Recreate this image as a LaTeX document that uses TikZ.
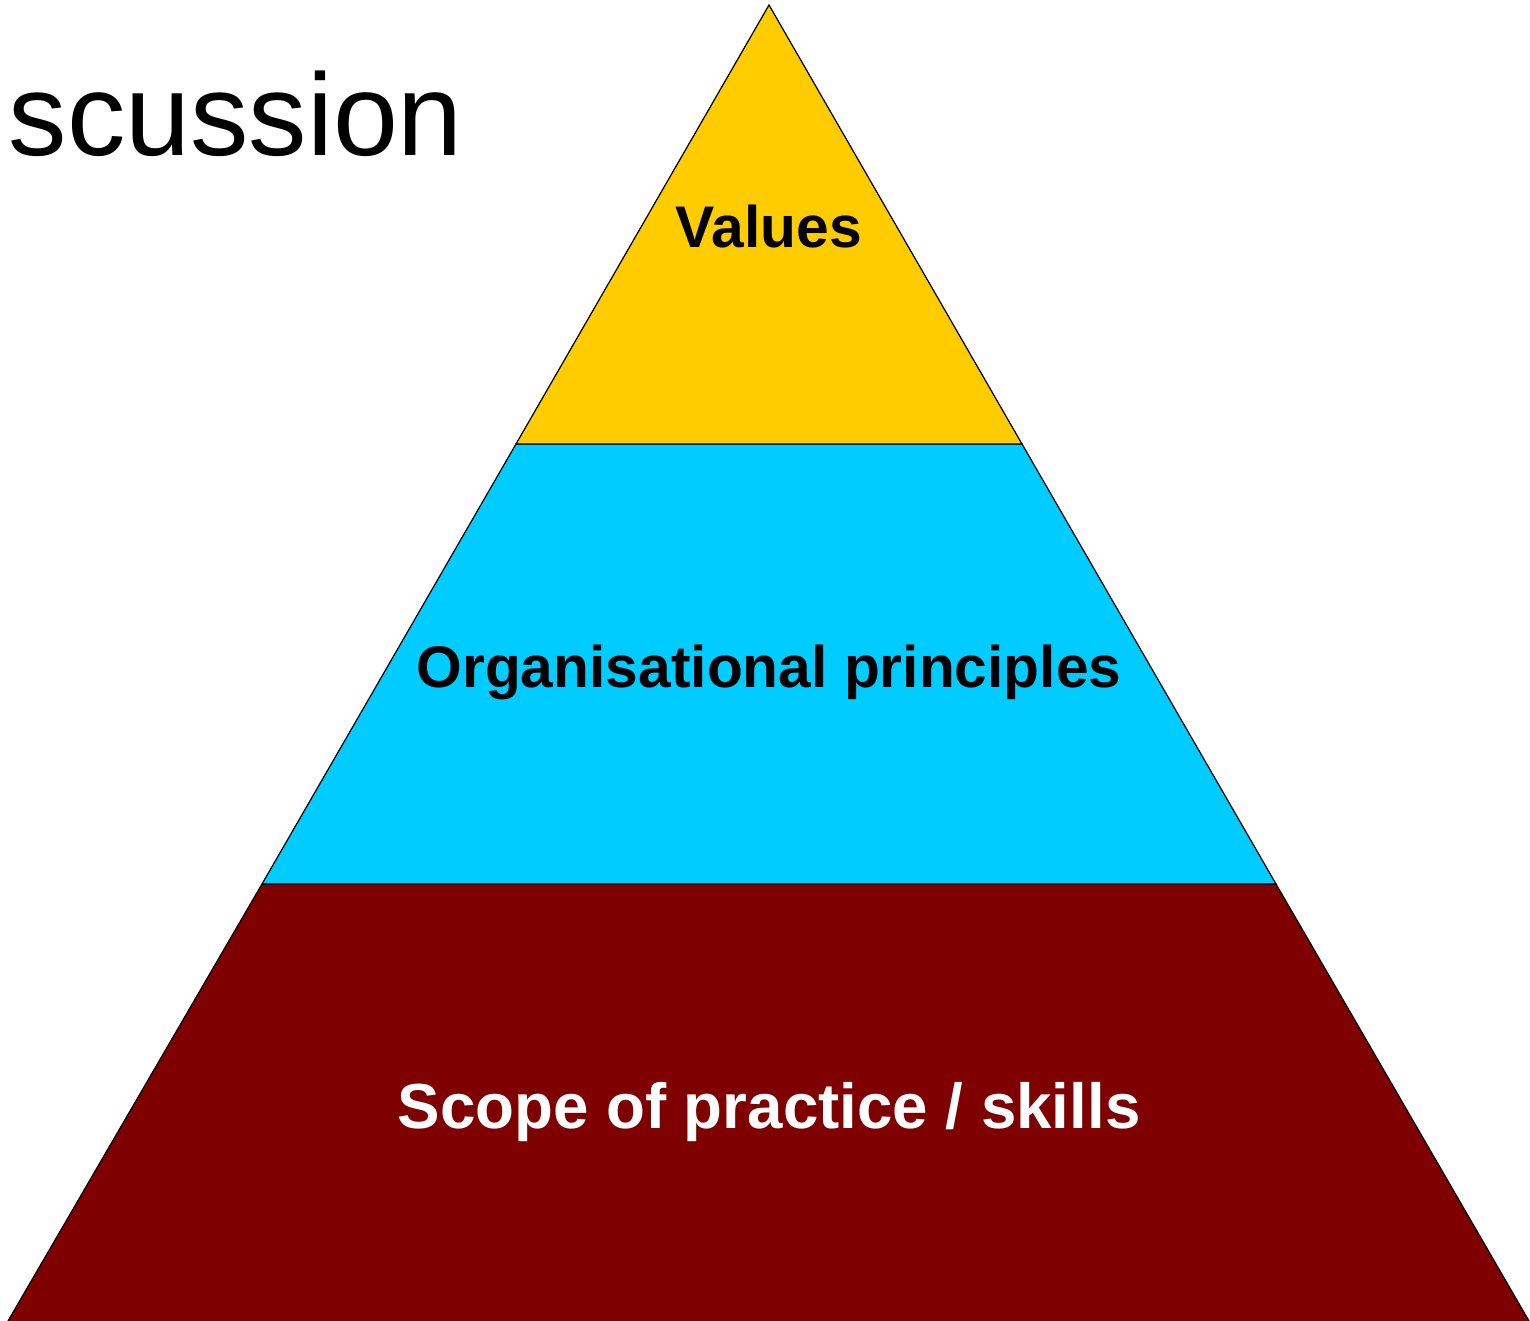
\documentclass[tikz,border=0pt]{standalone}
\usepackage{fontspec}
\setmainfont{Liberation Sans}
\usepackage{tikz}

\definecolor{valuesyellow}{HTML}{FFCC00}
\definecolor{principlescyan}{HTML}{00CCFF}
\definecolor{skillsred}{HTML}{7F0000}

\tikzset{
	layer/.style={draw=black,line width=0.35pt,line join=miter},
	layerlabel/.style={anchor=base,inner sep=0pt,font=\fontsize{16.7}{20}\selectfont\bfseries},
}

\begin{document}
\begin{tikzpicture}[x=0.01cm,y=-0.01cm]
		\useasboundingbox (0,0) rectangle (1530,1321);
		% corners of the pyramid and its layers
		\coordinate (apex) at (769,5);
		\coordinate (topL) at (516,444);
		\coordinate (topR) at (1022,444);
		\coordinate (midL) at (262,884);
		\coordinate (midR) at (1276,884);
		\coordinate (baseL) at (8,1321);
		\coordinate (baseR) at (1529,1321);
		% layers, bottom first
		\fill[skillsred] (midL) -- (midR) -- (baseR) -- (baseL) -- cycle;
		\draw[layer] (baseL) -- (midL) -- (midR) -- (baseR);
		\draw[layer,fill=principlescyan] (topL) -- (topR) -- (midR) -- (midL) -- cycle;
		\draw[layer,fill=valuesyellow] (apex) -- (topR) -- (topL) -- cycle;
		% labels
		\node[layerlabel] (values) at (769,247) {Values};
		\node[layerlabel] (principles) at (769,687) {Organisational principles};
		\node[layerlabel,text=white,font=\fontsize{18.1}{22}\selectfont\bfseries] (skills) at (769,1128) {Scope of practice / skills};
		% heading
		\node[anchor=base west,inner sep=0pt,font=\fontsize{33.2}{40}\selectfont] (heading) at (8,155) {scussion};
	\end{tikzpicture}
\end{document}
